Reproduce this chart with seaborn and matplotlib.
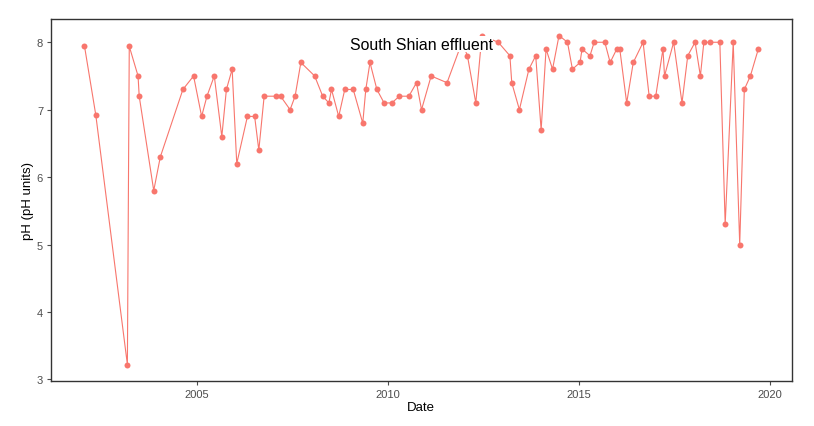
import pandas as pd
import seaborn as sns
import matplotlib.pyplot as plt
import matplotlib.dates as mdates

# sample dates and pH readings
dates = [
    "2002-01-23", "2002-05-12", "2003-03-10", "2003-03-28", "2003-06-20", "2003-07-01",
    "2003-11-17", "2004-01-19", "2004-08-22", "2004-12-02", "2005-02-17", "2005-04-09",
    "2005-06-18", "2005-08-29", "2005-10-12", "2005-12-06", "2006-01-19", "2006-05-01",
    "2006-07-09", "2006-08-18", "2006-10-08", "2007-01-30", "2007-03-14", "2007-06-13",
    "2007-07-31", "2007-09-24", "2008-02-03", "2008-04-20", "2008-06-18", "2008-07-13",
    "2008-09-20", "2008-11-17", "2009-02-06", "2009-05-08", "2009-06-06", "2009-07-16",
    "2009-09-20", "2009-11-28", "2010-02-10", "2010-04-23", "2010-07-23", "2010-10-04",
    "2010-11-21", "2011-02-21", "2011-07-23", "2011-12-13", "2012-02-03", "2012-04-23",
    "2012-06-20", "2012-11-24", "2013-03-15", "2013-04-02", "2013-06-14", "2013-09-13",
    "2013-11-17", "2014-01-08", "2014-02-24", "2014-04-27", "2014-06-28", "2014-09-17",
    "2014-11-03", "2015-01-15", "2015-02-03", "2015-04-20", "2015-05-30", "2015-09-09",
    "2015-10-30", "2016-01-01", "2016-01-30", "2016-04-05", "2016-06-07", "2016-09-09",
    "2016-11-06", "2017-01-08", "2017-03-18", "2017-04-02", "2017-06-28", "2017-09-16",
    "2017-11-10", "2018-01-19", "2018-03-11", "2018-04-13", "2018-06-10", "2018-09-13",
    "2018-11-03", "2019-01-19", "2019-03-22", "2019-05-05", "2019-07-02", "2019-09-16",
]
ph = [
    7.95, 6.92, 3.22, 7.94, 7.5, 7.2,
    5.8, 6.3, 7.3, 7.5, 6.9, 7.2,
    7.5, 6.6, 7.3, 7.6, 6.2, 6.9,
    6.9, 6.4, 7.2, 7.2, 7.2, 7.0,
    7.2, 7.7, 7.5, 7.2, 7.1, 7.3,
    6.9, 7.3, 7.3, 6.8, 7.3, 7.7,
    7.3, 7.1, 7.1, 7.2, 7.2, 7.4,
    7.0, 7.5, 7.4, 8.0, 7.8, 7.1,
    8.1, 8.0, 7.8, 7.4, 7.0, 7.6,
    7.8, 6.7, 7.9, 7.6, 8.1, 8.0,
    7.6, 7.7, 7.9, 7.8, 8.0, 8.0,
    7.7, 7.9, 7.9, 7.1, 7.7, 8.0,
    7.2, 7.2, 7.9, 7.5, 8.0, 7.1,
    7.8, 8.0, 7.5, 8.0, 8.0, 8.0,
    5.3, 8.0, 5.0, 7.3, 7.5, 7.9,
]
site_label = "South Shian effluent"

df = pd.DataFrame({"Date": pd.to_datetime(dates), "pH": ph})

sns.set_style("white")
plt.rcParams["font.family"] = ["Liberation Sans", "DejaVu Sans"]

fig = plt.figure(figsize=(8.14, 4.27), dpi=100)
ax = fig.add_axes([0.0623, 0.1054, 0.9107, 0.8476])

red = "#F8766D"
sns.lineplot(data=df, x="Date", y="pH", ax=ax, color=red, linewidth=0.8,
             estimator=None, sort=False, marker="o", markersize=4.3,
             markeredgewidth=0, markerfacecolor=red)

# ggplot-like 5% expansion
xnum = mdates.date2num(df["Date"])
xr = xnum.max() - xnum.min()
ax.set_xlim(xnum.min() - 0.05 * xr, xnum.max() + 0.05 * xr)
yr = max(ph) - min(ph)
ax.set_ylim(min(ph) - 0.05 * yr, max(ph) + 0.05 * yr)

ax.xaxis.set_major_locator(mdates.YearLocator(5))
ax.xaxis.set_major_formatter(mdates.DateFormatter("%Y"))
ax.set_yticks([3, 4, 5, 6, 7, 8])

ax.text(pd.Timestamp("2010-11-17"), 7.97, site_label, ha="center", va="center",
        fontsize=11.4, color="black",
        bbox=dict(facecolor="white", edgecolor="none", pad=0.5))

ax.set_xlabel("Date", fontsize=9.5, color="black", labelpad=2)
ax.set_ylabel("pH (pH units)", fontsize=9.5, color="black", labelpad=2)
ax.tick_params(axis="both", labelsize=8, colors="#4D4D4D", length=3, width=0.8,
               direction="out", bottom=True, left=True, pad=2.5)
for s in ax.spines.values():
    s.set_color("#333333")
    s.set_linewidth(1.0)
ax.grid(False)

fig.savefig("out.png", dpi=100)
